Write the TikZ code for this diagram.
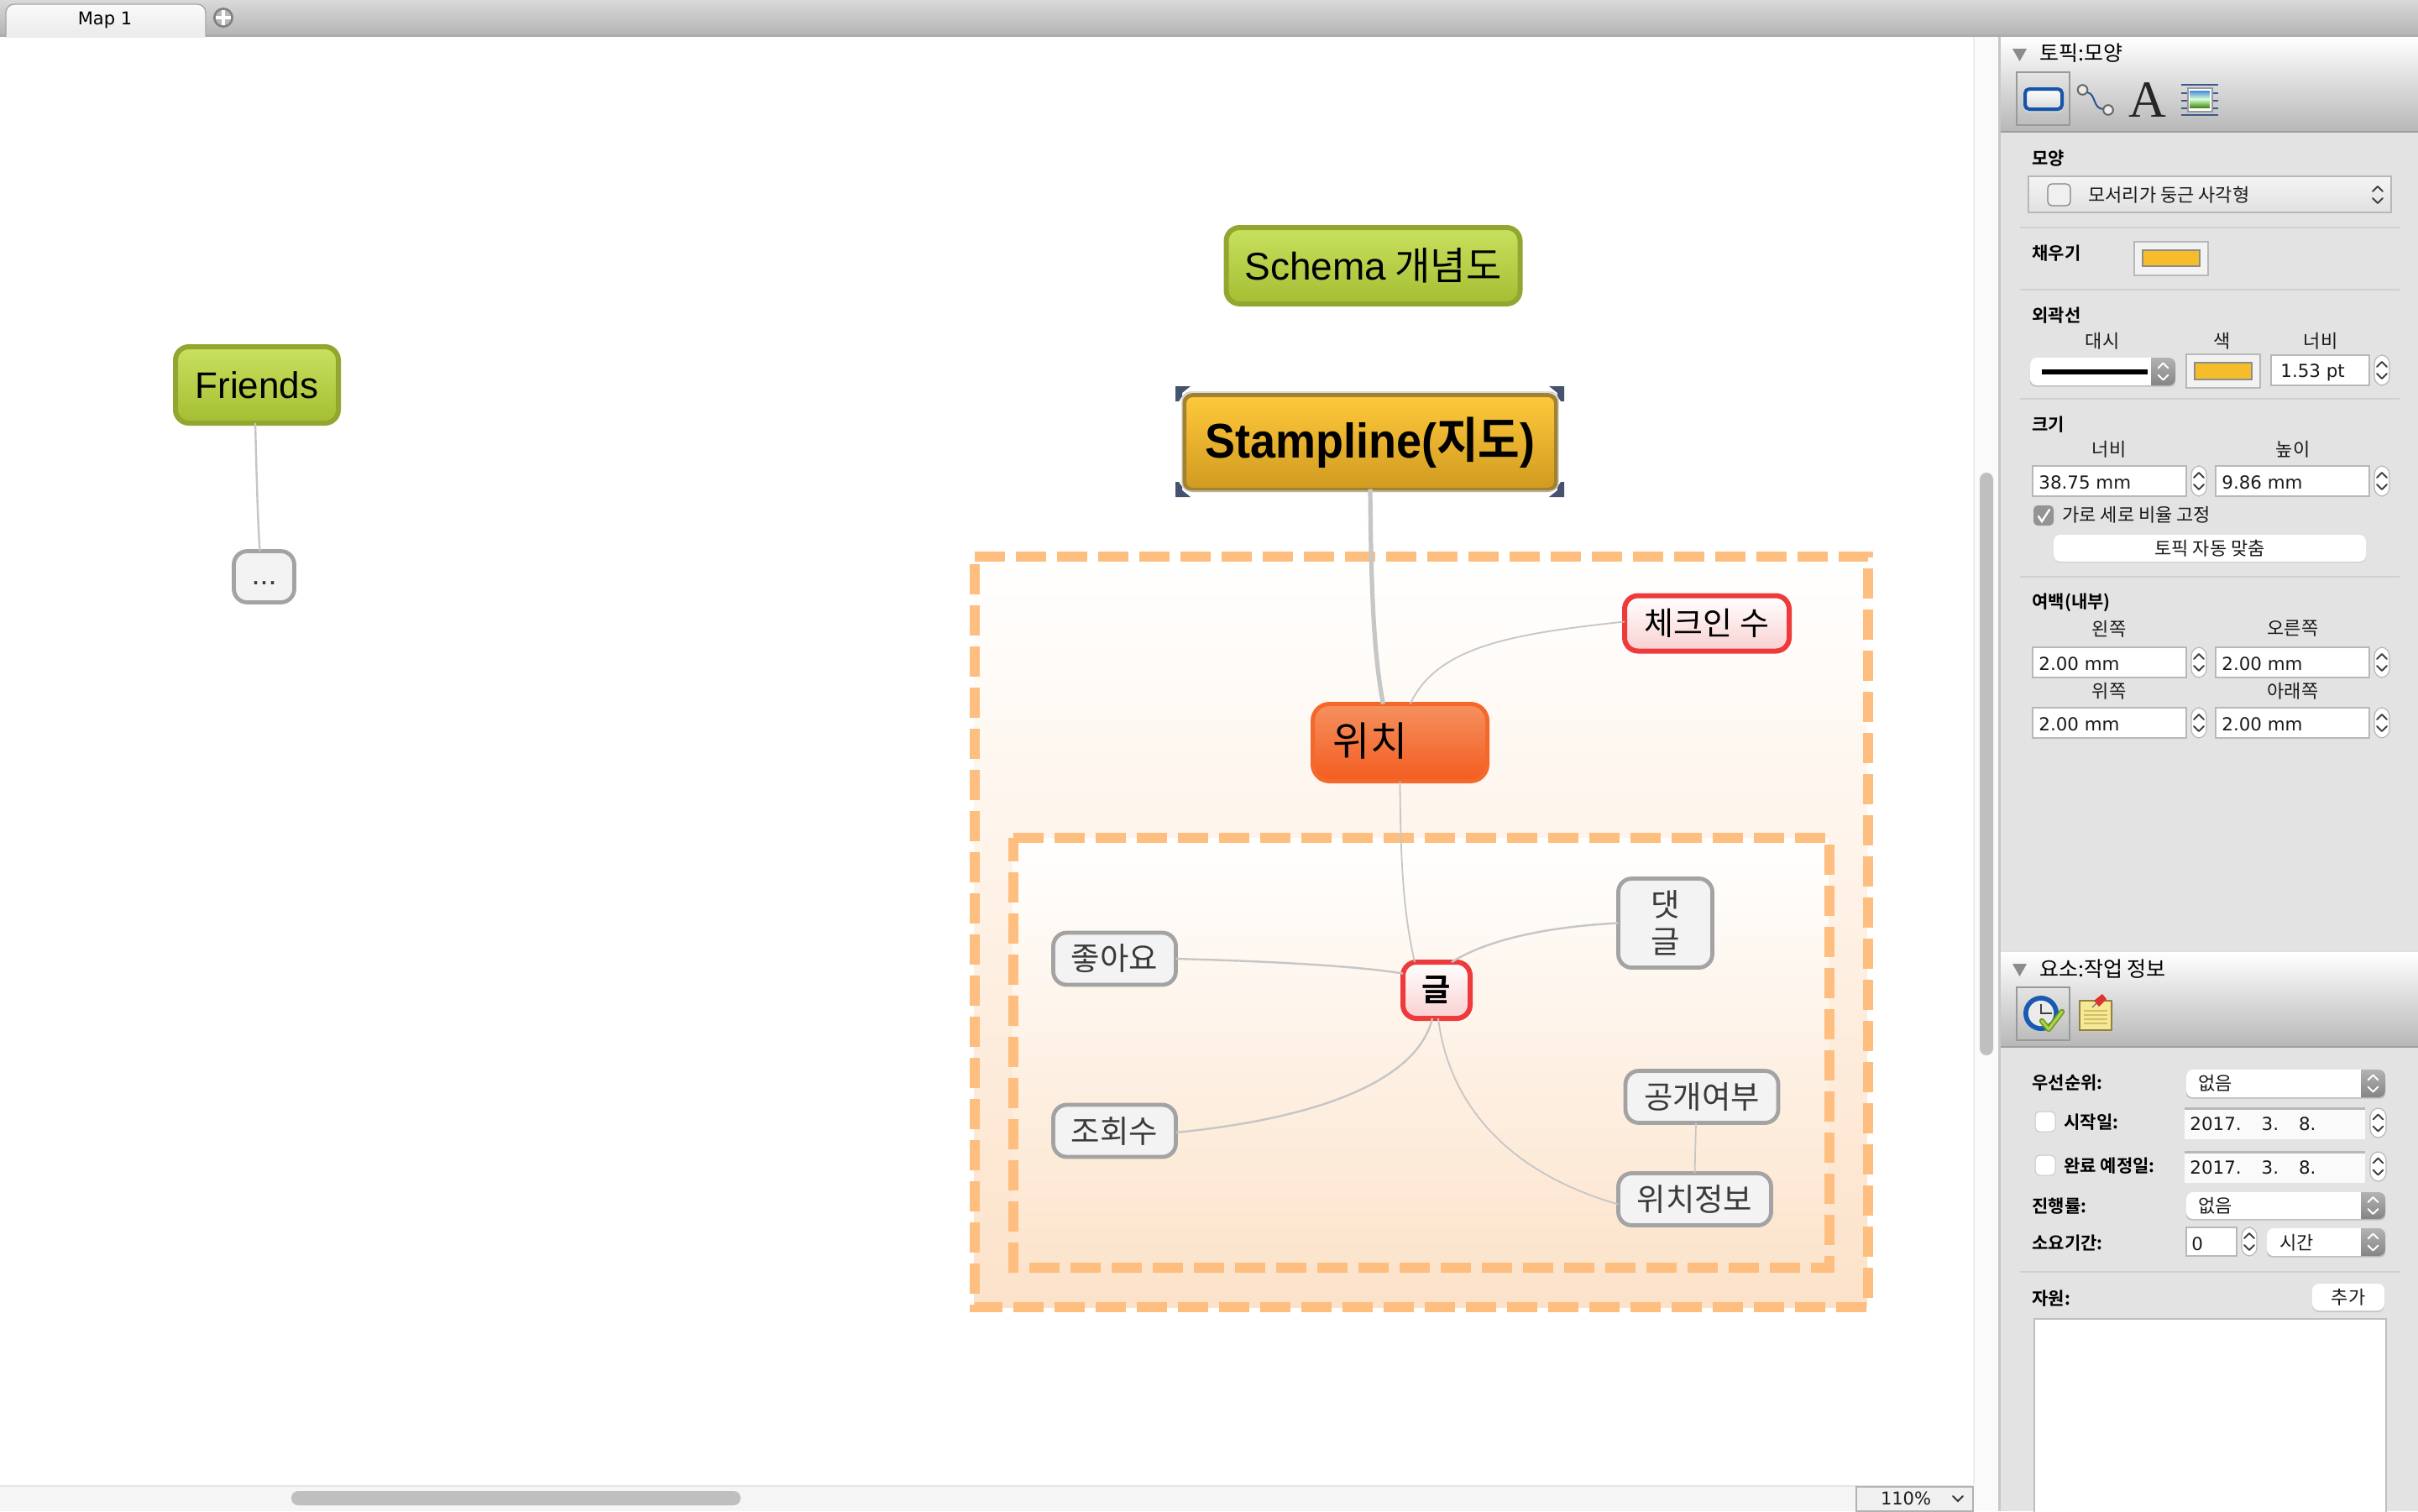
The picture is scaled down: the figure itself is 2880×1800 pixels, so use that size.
\documentclass[tikz,border=0pt]{standalone}
\usepackage{fontspec}
\setmainfont{Noto Sans CJK KR}[BoldFont={Noto Sans CJK KR Bold}]
\newfontfamily\lsf{Liberation Sans}
\newfontfamily\djf{DejaVu Sans}
\newfontfamily\lserif{Liberation Serif}
\usetikzlibrary{calc}
\definecolor{grpdash}{HTML}{FDBE7F}
\definecolor{edgegray}{HTML}{C6C6C6}
\definecolor{panelbg}{HTML}{E3E3E3}
\definecolor{sepc}{HTML}{D0D0D0}
\definecolor{fieldb}{HTML}{B8B8B8}
\definecolor{swatch}{HTML}{F5BD2A}
\definecolor{txt}{HTML}{1A1A1A}
\definecolor{grnb}{HTML}{93A62F}
\definecolor{grnt}{HTML}{C8E15F}
\definecolor{grnm}{HTML}{A3BE32}
\definecolor{redb}{HTML}{EE3A3A}
\definecolor{redf}{HTML}{F9D0D0}
\definecolor{grayb}{HTML}{A3A3A3}
\definecolor{grayf}{HTML}{F3F3F3}
\definecolor{grayt}{HTML}{3A3A3A}
\definecolor{stb}{HTML}{A08232}
\definecolor{stt}{HTML}{FFC93C}
\definecolor{stm}{HTML}{D09A20}
\definecolor{orb}{HTML}{F4682B}
\definecolor{ort}{HTML}{F5915F}
\definecolor{orm}{HTML}{F35C20}
\definecolor{grpa}{HTML}{FCE2C9}
\definecolor{grpb}{HTML}{FCE4CC}
\definecolor{hnd}{HTML}{46536F}
\definecolor{iconb}{HTML}{1455AA}
\definecolor{curveb}{HTML}{285591}
\definecolor{lineb}{HTML}{3C5A8C}
\definecolor{skycol}{HTML}{468CDC}
\definecolor{grasscol}{HTML}{468C14}
\definecolor{clockb}{HTML}{195AB4}
\definecolor{chka}{HTML}{699628}
\definecolor{chkb}{HTML}{AAD73C}
\definecolor{noteb}{HTML}{96823C}
\definecolor{notef}{HTML}{F5E896}
\definecolor{notel}{HTML}{D2BE64}
\definecolor{pincol}{HTML}{E13232}
\tikzset{
 topic/.style={rounded corners=8pt,inner sep=0pt,outer sep=0pt,align=center,text=black},
 green topic/.style={topic,draw=grnb,line width=3pt,top color=grnt,bottom color=grnm},
 red topic/.style={topic,draw=redb,line width=3pt,top color=white,bottom color=redf,font=\fontsize{19}{22}\selectfont},
 gray topic/.style={topic,draw=grayb,line width=2.4pt,fill=grayf,text=grayt,font=\fontsize{18.7}{22}\selectfont},
 edge thin/.style={draw=edgegray,line width=.9pt},
 edge mid/.style={draw=edgegray,line width=1.2pt},
 group dash/.style={draw=grpdash,line width=6pt,dash pattern=on 18pt off 6.5pt},
 lbltxt/.style={anchor=west,inner sep=0pt,yshift=-.6pt,font=\fontsize{10.5}{12}\selectfont\bfseries,text=black},
 captxt/.style={anchor=center,inner sep=0pt,font=\fontsize{11}{12}\selectfont,text=txt},
 valtxt/.style={anchor=west,inner sep=0pt,xshift=1pt,yshift=-.3pt,font=\djf\fontsize{10.7}{12}\selectfont,text=txt},
 krtxt/.style={anchor=west,inner sep=0pt,font=\fontsize{11}{12}\selectfont,text=txt},
 headtxt/.style={anchor=west,inner sep=0pt,font=\fontsize{12.5}{14}\selectfont,text=black},
 fieldbox/.style={draw=fieldb,fill=white,line width=.7pt},
 sepline/.style={draw=sepc,line width=1pt},
}
\newcommand\updown[3]{%
 \draw[#3,line width=1pt,line cap=round,line join=round] ({#1-6},{#2-4})--({#1},{#2-10})--({#1+6},{#2-4});
 \draw[#3,line width=1pt,line cap=round,line join=round] ({#1-6},{#2+4})--({#1},{#2+10})--({#1+6},{#2+4});}
\newcommand\stepper[4]{%
 \draw[fill=white,draw=fieldb,line width=.6pt,rounded corners=5pt] (#1,#2) rectangle (#3,#4);
 \updown{(#1+#3)/2}{(#2+#4)/2}{black!75}}
\newcommand\dropdown[5]{%
 \fill[black!25,rounded corners=3pt] (#1,{#2+1.5}) rectangle (#3,{#4+1.5});
 \begin{scope}
 \clip[rounded corners=4pt] (#1,#2) rectangle (#3,#4);
 \fill[white] (#1,#2) rectangle (#5,#4);
 \shade[top color=black!30,bottom color=black!48] (#5,#2) rectangle (#3,#4);
 \end{scope}
 \updown{(#5+#3)/2}{(#2+#4)/2}{white}}
\begin{document}
\begin{tikzpicture}[x=0.5pt,y=-0.5pt]
\useasboundingbox (0,0) rectangle (2880,1800);
\fill[white] (0,0) rectangle (2880,1800);

% group boxes
\shade[top color=white,bottom color=grpa] (1160,663) rectangle (2224,1557);
\draw[group dash] (1160.5,663)--(2224.5,663)--(2224.5,1557)--(1160.5,1557)--cycle;
\shade[top color=white,bottom color=grpb] (1206,998) rectangle (2178,1510);
\draw[group dash] (1206.5,998)--(2178.5,998)--(2178.5,1510)--(1206.5,1510)--cycle;

% topics
\node (schema) [green topic,minimum width=175pt,minimum height=45.5pt,font=\fontsize{23}{24}\selectfont] at (1635.5,316.5) {{\lsf Schema} 개념도};
\node (friends) [green topic,minimum width=97pt,minimum height=45.5pt,font=\lsf\fontsize{22}{24}\selectfont] at (306,458.5) {Friends};
\node (dots) [gray topic,minimum width=36pt,minimum height=30.5pt,text height=13pt,text depth=4pt,font=\lsf\fontsize{18}{20}\selectfont] at (314.5,687) {...};
\node (stamp) [topic,rounded corners=5pt,draw=stb,line width=2.5pt,top color=stt,bottom color=stm,minimum width=221.5pt,minimum height=56.5pt,font=\bfseries\fontsize{29}{30}\selectfont] at (1632,527) {\scalebox{.93}[1]{{\lsf\bfseries Stampline(}지도{\lsf\bfseries )}}};
\node (loc) [topic,rounded corners=10pt,draw=orb,line width=2.5pt,top color=ort,bottom color=orm,minimum width=104pt,minimum height=46pt] at (1667.5,884.5) {};
\node (loctext) [inner sep=0pt,font=\fontsize{24}{26}\selectfont,text=black] at (1632,883) {위치};
\node (check) [red topic,minimum width=98pt,minimum height=33pt] at (2033,742.5) {체크인 수};
\node (post) [red topic,minimum width=40pt,minimum height=33.5pt,font=\fontsize{18.7}{22}\selectfont] at (1711,1179.5) {\textbf{글}};
\node (like) [gray topic,minimum width=73pt,minimum height=31pt] at (1327.5,1142) {좋아요};
\node (view) [gray topic,minimum width=73pt,minimum height=31pt] at (1327.5,1347) {조회수};
\node (reply) [gray topic,minimum width=56pt,minimum height=53pt] at (1983.5,1099.5) {댓\\글};
\node (public) [gray topic,minimum width=91pt,minimum height=31pt] at (2027,1306.5) {공개여부};
\node (place) [gray topic,minimum width=91pt,minimum height=31pt] at (2018.5,1428.5) {위치정보};

% connectors
\draw[draw=edgegray,line width=2.6pt] ([yshift=.5pt]stamp.south) .. controls (1633,700) and (1636,780) .. ([xshift=-10pt]loc.north);
\draw[edge mid] ([xshift=-1pt]friends.south) .. controls (306,580) and (307,620) .. ([xshift=-2.5pt]dots.north);
\draw[edge thin] ([xshift=6pt]loc.north) .. controls (1712,770) and (1800,755) .. ([yshift=1pt]check.west);
\draw[edge thin] (loc.south) .. controls (1668,1030) and (1672,1090) .. ([xshift=-13pt]post.north);
\draw[edge mid] ([xshift=9pt]post.north) .. controls (1770,1120) and (1840,1104) .. (reply.west);
\draw[edge mid] ([yshift=10pt]post.west) .. controls (1610,1150) and (1510,1145) .. (like.east);
\draw[edge mid] ([xshift=-2.5pt]post.south) .. controls (1690,1280) and (1590,1330) .. ([yshift=-1pt]view.east);
\draw[edge thin] ([xshift=1pt]post.south) .. controls (1725,1310) and (1790,1395) .. ([yshift=-3pt]place.west);
\draw[edge thin] ([xshift=-3.5pt]public.south) -- (place.north);

% selection handles
\foreach \hx/\hy/\sx/\sy in {1400/460/1/1,1863/460/-1/1,1400/592/1/-1,1863/592/-1/-1}{
 \fill[hnd] (\hx,\hy)--({\hx+\sx*18},\hy)--({\hx+\sx*8},{\hy+\sy*8})--({\hx+\sx*8},{\hy+\sy*12})--({\hx+\sx*4},{\hy+\sy*18})--(\hx,{\hy+\sy*18})--cycle;
}
\draw[white!60!gray,line width=.7pt,rounded corners=5pt] (1408,467) rectangle (1856,585);

% top bar
\shade[top color=black!15,bottom color=black!29] (0,0) rectangle (2880,41);
\fill[black!32] (0,41) rectangle (2880,44);
\path[top color=white!98!black,bottom color=white!92!black,draw=black!35,line width=.7pt,rounded corners=5pt] (7,44)--(7,5)--(245,5)--(245,44);
\fill[white!93!black] (8,41) rectangle (244,44.5);
\node (tabtext) [inner sep=0pt,font=\djf\fontsize{10.5}{12}\selectfont,text=black] at (125,24) {Map 1};
\fill[black!50] (266,21) circle (6pt);
\fill[black!28] (266,21) circle (4.6pt);
\draw[white,line width=2.4pt] (257,21)--(275,21) (266,12)--(266,30);

% gutter, scrollbars
\fill[white!98!black] (2350,44) rectangle (2380,1800);
\fill[white!93!black] (2350,44) rectangle (2352,1770);
\fill[black!25,rounded corners=4pt] (2358,563) rectangle (2374,1257);
\fill[white!96!black] (0,1770) rectangle (2350,1800);
\draw[black!10,line width=.6pt] (0,1770)--(2350,1770);
\fill[black!25,rounded corners=4pt] (347,1776) rectangle (882,1793);
\draw[fill=white!94!black,draw=black!30,line width=.7pt] (2211,1771) rectangle (2350,1800);
\node (zoomv) [inner sep=0pt,font=\djf\fontsize{10.5}{12}\selectfont,text=txt] at (2270,1785) {110\%};
\draw[black!80,line width=1pt,line cap=round] (2326,1782)--(2332,1788)--(2338,1782);

% right panel
\fill[panelbg] (2382,44) rectangle (2880,1800);
\fill[black!22] (2380,44) rectangle (2383,1800);
\shade[top color=white,bottom color=black!28] (2383,44) rectangle (2880,156);
\fill[black!38] (2383,156) rectangle (2880,158);
\fill[black!45] (2397,58)--(2414,58)--(2405.5,73)--cycle;
\node (h1) [headtxt] at (2429,63) {토픽:모양};
\draw[black!40,line width=1pt] (2402,86) rectangle (2465,149);
\fill[black!20,rounded corners=3pt] (2410,107) rectangle (2458,135);
\draw[draw=iconb,line width=2pt,top color=white,bottom color=black!15,rounded corners=2.5pt] (2412,106) rectangle (2456,130);
\draw[draw=curveb,line width=1pt] (2486,110) .. controls (2497,112) and (2492,130) .. (2506,130);
\draw[black!60,fill=black!8,line width=1pt] (2480.5,107) circle (2.9pt);
\draw[black!60,fill=black!8,line width=1pt] (2511,131) circle (2.9pt);
\node (iconA) [inner sep=0pt,font=\lserif\fontsize{31}{34}\selectfont,text=black!85] at (2558,119) {A};
\foreach \ly in {101,111,120,129,137}{\draw[draw=lineb,line width=.7pt] (2598,\ly)--(2642,\ly);}
\draw[black!40,fill=white,line width=.8pt] (2606,105) rectangle (2635,133);
\shade[top color=skycol,bottom color=grasscol,middle color=white!85!green] (2608,108) rectangle (2632,128);

\node (l1) [lbltxt] at (2420,187) {모양};
\shade[top color=white!96!black,bottom color=white!88!black] (2416,210) rectangle (2848,253);
\draw[fieldb,line width=.8pt] (2416,210) rectangle (2848,253);
\draw[black!50,fill=white!94!black,line width=.6pt,rounded corners=2.5pt] (2439,219) rectangle (2466,245);
\node (dd1) [krtxt] at (2487,232) {모서리가 둥근 사각형};
\updown{2832}{232}{black!75}
\draw[sepline] (2406,271)--(2858,271);

\node (l2) [lbltxt] at (2420,300) {채우기};
\draw[fieldb,fill=white!95!black,line width=.8pt] (2542,288) rectangle (2630,328);
\draw[black!45,fill=swatch,line width=.8pt] (2552,298) rectangle (2620,317);
\draw[sepline] (2406,345)--(2858,345);

\node (l3) [lbltxt] at (2420,374) {외곽선};
\node (c1) [captxt] at (2504,406) {대시};
\node (c2) [captxt] at (2647,406) {색};
\node (c3) [captxt] at (2764,406) {너비};
\dropdown{2418}{426}{2591}{459}{2562}
\fill[black] (2432,440) rectangle (2558,446);
\draw[fieldb,fill=white!95!black,line width=.8pt] (2604,422) rectangle (2692,462);
\draw[black!45,fill=swatch,line width=.8pt] (2614,432) rectangle (2682,452);
\draw[fieldbox] (2705,423) rectangle (2822,459);
\node (v1) [valtxt] at (2714,443) {1.53 pt};
\stepper{2828}{423}{2846}{459}
\draw[sepline] (2406,475)--(2858,475);

\node (l4) [lbltxt] at (2420,504) {크기};
\node (c4) [captxt] at (2512,535) {너비};
\node (c5) [captxt] at (2731,535) {높이};
\draw[fieldbox] (2421,555) rectangle (2604,591);
\node (v2) [valtxt] at (2426,574) {38.75 mm};
\stepper{2610}{555}{2628}{591}
\draw[fieldbox] (2639,555) rectangle (2822,591);
\node (v3) [valtxt] at (2644,574) {9.86 mm};
\stepper{2828}{555}{2846}{591}
\fill[black!42,rounded corners=2.5pt] (2422,602) rectangle (2446,626);
\draw[white,line width=1.2pt,line cap=round] (2428,615)--(2432,621)--(2441,607);
\node (c6) [krtxt] at (2456,613) {가로 세로 비율 고정};
\fill[black!22,rounded corners=4pt] (2446,639) rectangle (2818,670);
\fill[white,rounded corners=4pt] (2446,637) rectangle (2818,669);
\node (b1) [captxt] at (2632,653) {토픽 자동 맞춤};
\draw[sepline] (2406,687)--(2858,687);

\node (l5) [lbltxt] at (2420,717) {여백(내부)};
\node (c7) [captxt] at (2512,749) {왼쪽};
\node (c8) [captxt] at (2731,749) {오른쪽};
\draw[fieldbox] (2421,771) rectangle (2604,807);
\node (v4) [valtxt] at (2426,790) {2.00 mm};
\stepper{2610}{771}{2628}{807}
\draw[fieldbox] (2639,771) rectangle (2822,807);
\node (v5) [valtxt] at (2644,790) {2.00 mm};
\stepper{2828}{771}{2846}{807}
\node (c9) [captxt] at (2512,823) {위쪽};
\node (c10) [captxt] at (2731,823) {아래쪽};
\draw[fieldbox] (2421,843) rectangle (2604,879);
\node (v6) [valtxt] at (2426,862) {2.00 mm};
\stepper{2610}{843}{2628}{879}
\draw[fieldbox] (2639,843) rectangle (2822,879);
\node (v7) [valtxt] at (2644,862) {2.00 mm};
\stepper{2828}{843}{2846}{879}

% section 2
\fill[black!12] (2383,1132) rectangle (2880,1134);
\shade[top color=white,bottom color=black!28] (2383,1134) rectangle (2880,1246);
\fill[black!38] (2383,1246) rectangle (2880,1248);
\fill[black!45] (2397,1148)--(2414,1148)--(2405.5,1163)--cycle;
\node (h2) [headtxt] at (2429,1154) {요소:작업 정보};
\draw[black!40,line width=1pt] (2402,1176) rectangle (2465,1239);
\fill[clockb] (2431,1207) circle (10.5pt);
\fill[white!92!black] (2431,1207) circle (7.6pt);
\draw[black!75,line width=.8pt] (2431,1196)--(2431,1207)--(2444,1207);
\draw[draw=chka,line width=3.2pt,line cap=round,line join=round] (2432,1216)--(2440,1226)--(2456,1205);
\draw[draw=chkb,line width=1.6pt,line cap=round,line join=round] (2432,1216)--(2440,1226)--(2456,1205);
\fill[black!22] (2478,1194) rectangle (2517,1230);
\draw[draw=noteb,fill=notef,line width=.8pt] (2477,1192) rectangle (2515,1227);
\foreach \ly in {1204,1209,1214,1219}{\draw[draw=notel,line width=.7pt] (2482,\ly)--(2510,\ly);}
\fill[pincol] (2494,1192)--(2504,1184)--(2509,1190)--(2500,1199)--cycle;
\draw[black!55,line width=.6pt] (2492,1200)--(2498,1194);

\node (l6) [lbltxt] at (2420,1288) {우선순위:};
\dropdown{2604}{1274}{2841}{1307}{2812}
\node (d1) [krtxt] at (2618,1290) {없음};
\draw[draw=black!22,fill=white,line width=.5pt,rounded corners=3pt] (2424,1324) rectangle (2448,1348);
\node (l7) [lbltxt] at (2458,1335) {시작일:};
\fill[white!98!black] (2602,1319) rectangle (2817,1357);
\fill[black!28] (2602,1319) rectangle (2817,1321.5);
\node (date1) [valtxt] at (2606,1338) {2017.\ \ \ \,3.\ \ \ \,8.};
\stepper{2823}{1320}{2842}{1355}
\draw[draw=black!22,fill=white,line width=.5pt,rounded corners=3pt] (2424,1376) rectangle (2448,1400);
\node (l8) [lbltxt] at (2458,1387) {완료 예정일:};
\fill[white!98!black] (2602,1371) rectangle (2817,1409);
\fill[black!28] (2602,1371) rectangle (2817,1373.5);
\node (date2) [valtxt] at (2606,1390) {2017.\ \ \ \,3.\ \ \ \,8.};
\stepper{2823}{1372}{2842}{1407}
\node (l9) [lbltxt] at (2420,1435) {진행률:};
\dropdown{2604}{1420}{2841}{1452}{2812}
\node (d2) [krtxt] at (2618,1436) {없음};
\node (l10) [lbltxt] at (2420,1479) {소요기간:};
\draw[fieldbox] (2604,1462) rectangle (2664,1496);
\node (v8) [valtxt] at (2608,1481) {0};
\stepper{2670}{1462}{2688}{1496}
\dropdown{2700}{1463}{2841}{1496}{2812}
\node (d3) [krtxt] at (2715,1480) {시간};
\draw[sepline] (2406,1515)--(2858,1515);
\node (l11) [lbltxt] at (2420,1545) {자원:};
\fill[black!22,rounded corners=4pt] (2754,1531) rectangle (2840,1563);
\fill[white,rounded corners=4pt] (2754,1529) rectangle (2840,1561);
\node (b2) [captxt] at (2797,1545) {추가};
\draw[draw=black!25,fill=white,line width=1pt] (2423,1571) rectangle (2842,1802);
\end{tikzpicture}
\end{document}
